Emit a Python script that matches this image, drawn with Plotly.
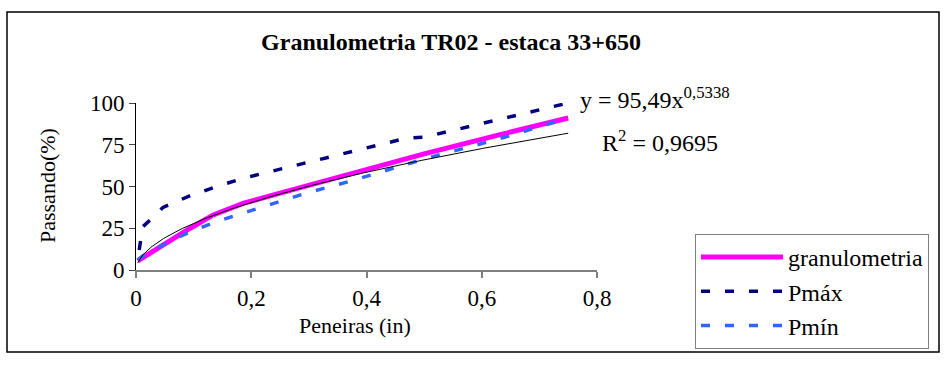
import numpy as np
import plotly.graph_objects as go

# ---- data ----
gran_x = [0.003, 0.012, 0.024, 0.047, 0.094, 0.134, 0.187, 0.25, 0.375, 0.5, 0.625, 0.75]
gran_y = [5.5, 7.5, 10, 15, 25, 33, 40, 46, 58, 69.5, 80.5, 91]

pmax_x = [0.0055, 0.012, 0.028, 0.047, 0.094, 0.14, 0.187, 0.25, 0.375, 0.47, 0.5, 0.75]
pmax_y = [12, 26, 31, 37.5, 44.5, 50, 55, 60.5, 71, 79, 79.5, 100]

pmin_x = [0.003, 0.012, 0.047, 0.094, 0.14, 0.187, 0.25, 0.29, 0.375, 0.5, 0.625, 0.75]
pmin_y = [6, 8.5, 15, 23, 29, 34, 41, 45.5, 53.5, 66.5, 78, 91]

# power trendline shown on the chart: y = 95,49 x^0,5338
trend_a = 95.49
trend_b = 0.5338
trend_r2 = 0.9695

x_ticks = [0, 0.2, 0.4, 0.6, 0.8]
y_ticks = [0, 25, 50, 75, 100]

FONT = "Liberation Serif"

trend_x = np.linspace(min(gran_x), max(gran_x), 300)
trend_y = trend_a * trend_x ** trend_b

fig = go.Figure()
fig.add_trace(go.Scatter(x=gran_x, y=gran_y, mode="lines", name="granulometria",
                         line=dict(color="#FF00FF", width=5), legendgroup="a"))
fig.add_trace(go.Scatter(x=pmax_x, y=pmax_y, mode="lines", name="Pmáx",
                         line=dict(color="#000080", width=3.5, dash="9px,15px"), legendgroup="b"))
fig.add_trace(go.Scatter(x=pmin_x, y=pmin_y, mode="lines", name="Pmín",
                         line=dict(color="#3366FF", width=3.5, dash="9px,15px"), legendgroup="c"))
fig.add_trace(go.Scatter(x=trend_x, y=trend_y, mode="lines", showlegend=False,
                         line=dict(color="black", width=1), hoverinfo="skip"))

L, R, T, B = 136, 597, 103, 270
W, H = 950, 385

def px_x(p):
    return (p - L) / (R - L)

def px_y(p):
    return (B - p) / (B - T)

fig.update_layout(
    width=W, height=H,
    margin=dict(l=L, r=W - R, t=T, b=H - B, autoexpand=False),
    paper_bgcolor="white", plot_bgcolor="white",
    separators=",.",
    font=dict(family=FONT, size=22, color="black"),
    title=dict(text="<b>Granulometria TR02 - estaca 33+650</b>", x=451 / W, xanchor="center",
               y=1 - 42 / H, yanchor="middle", xref="container", yref="container",
               font=dict(family=FONT, size=24, color="black")),
    xaxis=dict(range=[0, 0.8], tickvals=x_ticks, showgrid=False, zeroline=False,
               showline=True, linecolor="#808080", linewidth=2, ticks="outside",
               tickcolor="#808080", tickwidth=1.5, ticklen=6,
               tickfont=dict(family=FONT, size=23)),
    yaxis=dict(range=[0, 100], tickvals=y_ticks, showgrid=False, zeroline=False,
               showline=True, linecolor="black", linewidth=1, ticks="outside",
               tickcolor="#404040", ticklen=6,
               tickfont=dict(family=FONT, size=23)),
    legend=dict(x=px_x(695), xanchor="left", y=px_y(234), yanchor="top",
                bordercolor="#808080", borderwidth=1, bgcolor="white",
                font=dict(family=FONT, size=24), tracegroupgap=0, itemwidth=82),
    showlegend=True,
)

# outer chart border
fig.add_shape(type="rect", xref="paper", yref="paper",
              x0=px_x(7), x1=px_x(939), y0=px_y(352), y1=px_y(12),
              line=dict(color="black", width=1.5), layer="below")

# axis titles
fig.add_annotation(xref="paper", yref="paper", x=px_x(355), y=px_y(325), xanchor="center",
                   yanchor="middle", showarrow=False, text="Peneiras (in)",
                   font=dict(family=FONT, size=22))
fig.add_annotation(xref="paper", yref="paper", x=px_x(47), y=px_y(186), xanchor="center",
                   yanchor="middle", showarrow=False, text="Passando(%)", textangle=-90,
                   font=dict(family=FONT, size=22))

# trendline equation
fig.add_annotation(xref="paper", yref="paper", x=px_x(578), y=px_y(98), xanchor="left",
                   yanchor="middle", showarrow=False,
                   text="y = 95,49x<sup>0,5338</sup>", font=dict(family=FONT, size=24))
fig.add_annotation(xref="paper", yref="paper", x=px_x(600), y=px_y(141), xanchor="left",
                   yanchor="middle", showarrow=False,
                   text="R<sup>2</sup> = 0,9695", font=dict(family=FONT, size=24))

fig.write_html("out.html", config={"displayModeBar": False},
               post_script="document.body.style.margin='0';")
